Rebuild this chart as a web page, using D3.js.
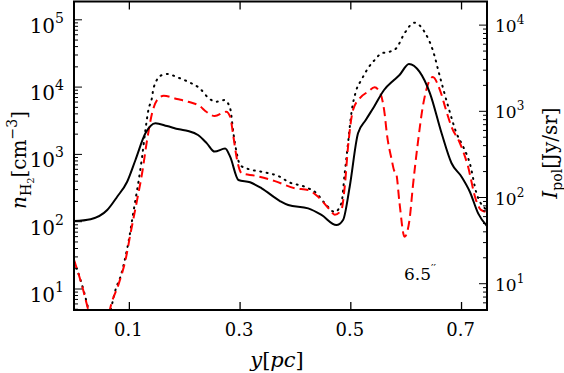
<!DOCTYPE html>
<html>
<head>
<meta charset="utf-8">
<script src="https://cdn.jsdelivr.net/npm/d3@7/dist/d3.min.js"></script>
<style>
body{margin:0;background:#fff;}
</style>
</head>
<body>
<script>
// solid curve (left axis, n_H2)
var solidX = [0.000,0.030,0.060,0.078,0.096,0.111,0.129,0.147,0.168,0.190,0.206,0.224,0.240,0.254,0.273,0.282,0.297,0.318,0.339,0.372,0.387,0.423,0.447,0.474,0.486,0.498,0.513,0.527,0.542,0.560,0.578,0.588,0.605,0.624,0.643,0.664,0.682,0.700,0.715,0.730,0.746];
var solidN = [102,109,149,235,393,826,2056,2900,2640,2360,2230,1940,1460,1100,1220,925,417,385,313,203,177,158,126,89,106,331,2060,3240,5110,9060,12760,15150,22050,16940,8090,2060,738,466,279,133,86];

// dotted curve (right axis, I_pol)
var dotX = [0.000,0.009,0.018,0.025,0.035,0.046,0.057,0.069,0.075,0.084,0.093,0.099,0.105,0.111,0.117,0.123,0.129,0.135,0.140,0.144,0.158,0.170,0.184,0.206,0.227,0.245,0.257,0.272,0.282,0.288,0.294,0.300,0.315,0.339,0.372,0.387,0.417,0.438,0.453,0.471,0.483,0.489,0.495,0.501,0.510,0.519,0.531,0.546,0.555,0.570,0.582,0.597,0.615,0.633,0.648,0.661,0.676,0.691,0.703,0.715,0.727,0.742,0.746];
var dotI = [18,12.6,8.1,5.4,3.2,2.4,3.2,5.9,8.5,12.1,20.6,32,55,94,160,297,607,1084,1352,1897,2618,2710,2518,2203,1849,1390,1291,1352,1084,556,326,238,214,199,174,152,133,112,86,68,86,191,426,948,1766,2307,3155,4121,4710,4909,5383,8035,10670,8375,5140,2518,1130,556,388,249,112,75,71];

// dashed red curve (right axis, I_pol)
var dashX = [0.000,0.015,0.025,0.035,0.046,0.057,0.067,0.081,0.093,0.102,0.114,0.123,0.132,0.141,0.150,0.162,0.186,0.206,0.227,0.239,0.254,0.275,0.282,0.288,0.294,0.303,0.327,0.363,0.399,0.423,0.441,0.462,0.471,0.483,0.489,0.495,0.504,0.516,0.531,0.543,0.552,0.561,0.565,0.574,0.578,0.582,0.588,0.597,0.606,0.612,0.621,0.630,0.639,0.648,0.661,0.672,0.682,0.697,0.711,0.726,0.735,0.746];
var dashI = [19,9.2,5.2,3.0,2.3,3.0,5.7,10.1,18.8,38,94,191,464,948,1352,1517,1390,1291,1151,989,881,989,865,507,285,191,179,155,128,122,102,72,63,72,133,388,1035,1416,1687,1897,1687,948,556,272,208,191,86,35,55,133,426,1130,2018,2495,1766,1035,658,429,238,94,72,68];

var xTicks = [0.1,0.3,0.5,0.7];
var leftDecades = [1,2,3,4,5];
var rightDecades = [1,2,3,4];

var W = 564, H = 373;
var svg = d3.select("body").append("svg")
	.attr("width", W)
	.attr("height", H)
	.attr("font-family", "'DejaVu Serif', serif");

var x = d3.scaleLinear().domain([0,0.746]).range([74,487]);
var yL = d3.scaleLog().domain([Math.pow(10,0.688),Math.pow(10,5.272)]).range([310,1.5]);
var yR = d3.scaleLog().domain([Math.pow(10,0.695),Math.pow(10,4.274)]).range([310,1.5]);

svg.append("clipPath").attr("id","clip")
	.append("rect").attr("x",74).attr("y",1.5).attr("width",413).attr("height",308.5);

var plot = svg.append("g").attr("clip-path","url(#clip)");

function draw(xs, vs, ys, color, dash){
	var pts = xs.map(function(d,i){ return [d, vs[i]]; });
	var line = d3.line()
		.x(function(d){ return x(d[0]); })
		.y(function(d){ return ys(d[1]); })
		.curve(d3.curveMonotoneX);
	plot.append("path")
		.attr("d", line(pts))
		.attr("fill","none")
		.attr("stroke",color)
		.attr("stroke-width",2)
		.attr("stroke-dasharray",dash)
		.attr("stroke-linecap", dash=="1,5.5" ? "round" : "butt");
}
draw(dotX, dotI, yR, "#000", "1,5.5");
draw(dashX, dashI, yR, "#ff0000", "9,5");
draw(solidX, solidN, yL, "#000", null);

// x ticks top and bottom
xTicks.forEach(function(t){
	svg.append("line").attr("x1",x(t)).attr("x2",x(t)).attr("y1",310).attr("y2",302).attr("stroke","#000").attr("stroke-width",1.3);
	svg.append("line").attr("x1",x(t)).attr("x2",x(t)).attr("y1",1.5).attr("y2",9.5).attr("stroke","#000").attr("stroke-width",1.3);
	svg.append("text").attr("x",x(t)-1).attr("y",336).attr("text-anchor","middle")
		.attr("font-size",18).text(t.toFixed(1));
});

// log ticks
function logTicks(scale, xEdge, dir){
	var dom = scale.domain();
	for (var k = 0; k <= 6; k++){
		for (var m = 1; m < 10; m++){
			var v = m*Math.pow(10,k);
			if (v < dom[0] || v > dom[1]) continue;
			var len = (m==1) ? 8 : 4;
			svg.append("line").attr("x1",xEdge).attr("x2",xEdge+dir*len)
				.attr("y1",scale(v)).attr("y2",scale(v))
				.attr("stroke","#000").attr("stroke-width",1);
		}
	}
}
logTicks(yL, 74, 1);
logTicks(yR, 487, -1);

// tick labels with exponents
leftDecades.forEach(function(e){
	var t = svg.append("text").attr("x",64).attr("y",yL(Math.pow(10,e))+13)
		.attr("text-anchor","end").attr("font-size",20);
	t.append("tspan").text("10");
	t.append("tspan").attr("dy",-10).attr("font-size",14).text(e);
});
rightDecades.forEach(function(e){
	var t = svg.append("text").attr("x",495).attr("y",yR(Math.pow(10,e))+7)
		.attr("text-anchor","start").attr("font-size",17);
	t.append("tspan").text("10");
	t.append("tspan").attr("dy",-8).attr("font-size",12).text(e);
});

// frame
svg.append("rect").attr("x",74).attr("y",1.5).attr("width",413).attr("height",308.5)
	.attr("fill","none").attr("stroke","#000").attr("stroke-width",2);

// axis labels
var xl = svg.append("text").attr("x",277).attr("y",367).attr("text-anchor","middle").attr("font-size",21);
xl.append("tspan").attr("font-style","italic").text("y");
xl.append("tspan").text("[");
xl.append("tspan").attr("font-style","italic").text("pc");
xl.append("tspan").text("]");

var yl = svg.append("text").attr("transform","translate(26,160) rotate(-90)")
	.attr("text-anchor","middle").attr("font-size",20);
yl.append("tspan").attr("font-style","italic").text("n");
yl.append("tspan").attr("dy",5).attr("font-size",14).text("H");
yl.append("tspan").attr("dy",3).attr("font-size",10).text("2");
yl.append("tspan").attr("dy",-8).text("[cm");
yl.append("tspan").attr("dy",-9).attr("font-size",14).text("−3");
yl.append("tspan").attr("dy",9).text("]");

var yr = svg.append("text").attr("transform","translate(557,153) rotate(-90)")
	.attr("text-anchor","middle").attr("font-size",20);
yr.append("tspan").attr("font-style","italic").text("I");
yr.append("tspan").attr("dy",5).attr("font-size",14).text("pol");
yr.append("tspan").attr("dy",-5).text("[Jy/sr]");

// annotation
var an = svg.append("text").attr("x",404).attr("y",280).attr("font-size",17);
an.append("tspan").text("6.5");
an.append("tspan").attr("dy",-8).attr("font-size",11).text("′′");
</script>
</body>
</html>
